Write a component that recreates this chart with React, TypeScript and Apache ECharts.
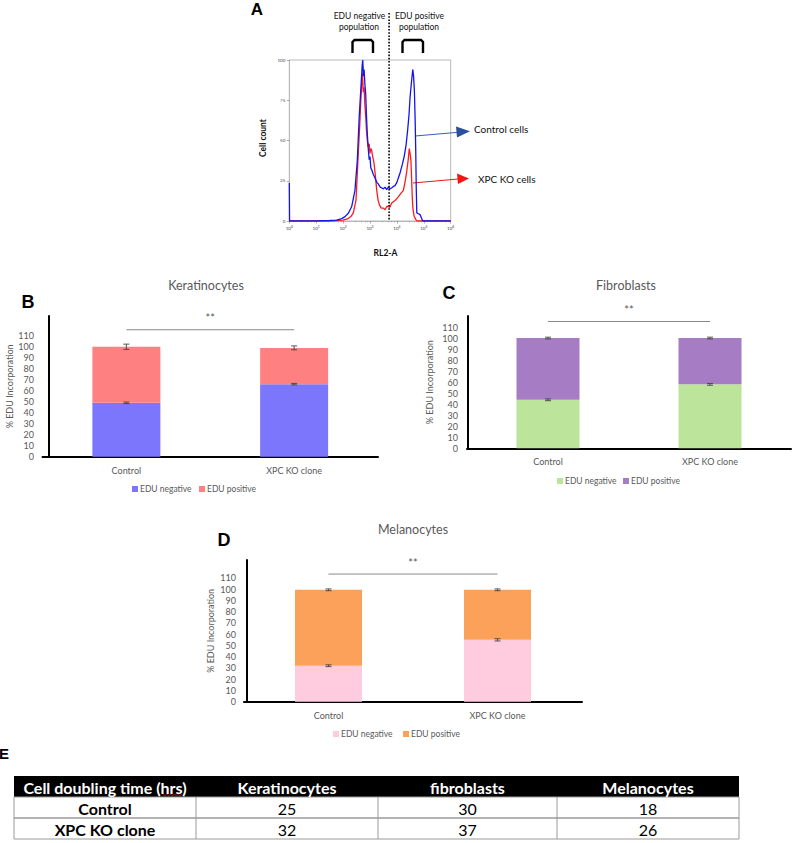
import React, { useEffect, useRef } from "react";
import * as echarts from "echarts";

// ---------- Data ----------
const categories = ["Control", "XPC KO clone"];

// Panel A: flow histogram, [log10(RL2-A), cell count]
const blueHistogram: [number, number][] = [
  [0, 23.6], [0.01, 0], [1.0, 0], [1.5, 0.3], [1.76, 0.6], [1.95, 1.5], [2.07, 2.7], [2.2, 5], [2.32, 9],
  [2.44, 19], [2.53, 38], [2.6, 65], [2.67, 85], [2.71, 97], [2.73, 100], [2.76, 90], [2.78, 94], [2.81, 85],
  [2.84, 79], [2.87, 65], [2.9, 54], [2.94, 44], [2.97, 38], [3.0, 40], [3.03, 33], [3.06, 32], [3.12, 29],
  [3.19, 26.5], [3.25, 24], [3.31, 23], [3.38, 21], [3.44, 20.5], [3.5, 20], [3.56, 21], [3.62, 19.5],
  [3.68, 21], [3.74, 20], [3.8, 20.5], [3.87, 21.5], [3.93, 22], [4.0, 24], [4.06, 27], [4.12, 30], [4.2, 35],
  [4.27, 40], [4.34, 47], [4.4, 56.5], [4.45, 66], [4.49, 77], [4.54, 86], [4.59, 94], [4.62, 90], [4.65, 81],
  [4.68, 62], [4.7, 44], [4.72, 20], [4.74, 5], [4.8, 4.5], [4.86, 4], [4.92, 1.5], [4.96, 0], [5.3, 0], [6, 0],
];
const redHistogram: [number, number][] = [
  [0, 0], [1.5, 0], [2.0, 0.5], [2.19, 1.5], [2.3, 3], [2.38, 5], [2.48, 13], [2.57, 44], [2.62, 60], [2.66, 75],
  [2.7, 88], [2.72, 92], [2.75, 80], [2.78, 83], [2.81, 72], [2.84, 65], [2.87, 56], [2.9, 50], [2.93, 46],
  [2.97, 48], [3.0, 42], [3.03, 45], [3.06, 44], [3.1, 40], [3.15, 36], [3.2, 28], [3.25, 19], [3.3, 13],
  [3.35, 10], [3.42, 8], [3.5, 8], [3.56, 7], [3.62, 9], [3.68, 9], [3.74, 8.5], [3.8, 11], [3.87, 12],
  [3.95, 13], [4.05, 15], [4.14, 17], [4.24, 19], [4.3, 24], [4.36, 30], [4.42, 38], [4.46, 45], [4.49, 42],
  [4.52, 38], [4.55, 25], [4.57, 15], [4.6, 7], [4.64, 3], [4.7, 1], [4.74, 0], [6, 0],
];
const gateLog = 3.71; // dotted gate between populations
const histYTicks = [0, 25, 50, 75, 100];

// Panel B: Keratinocytes
const keratNegative = [49, 66];
const keratPositive = [51, 33];
const keratNegErr = [0.7, 0.7];
const keratTotErr = [2.4, 1.8];
const keratSig = 115.5;

// Panel C: Fibroblasts
const fibroNegative = [44, 58];
const fibroPositive = [56, 42];
const fibroNegErr = [0.8, 0.8];
const fibroTotErr = [0.8, 0.8];
const fibroSig = 115;

// Panel D: Melanocytes
const melanoNegative = [32, 55];
const melanoPositive = [67.5, 44.5];
const melanoNegErr = [0.8, 1];
const melanoTotErr = [0.8, 0.8];
const melanoSig = 113.5;

// Panel E: table
const tableHeader = ["Cell doubling time (hrs)", "Keratinocytes", "fibroblasts", "Melanocytes"];
const tableRowLabels = ["Control", "XPC KO clone"];
const doublingControl = [25, 30, 18];
const doublingXPC = [32, 37, 26];

// ---------- Styles ----------
const FONT = "Lato, 'Open Sans', sans-serif";
const BOLD_FONT = "'Liberation Sans', Arial, sans-serif";
const GRAY = "#595959";

const colorsB = ["#7b76fb", "#ff8080"];
const colorsC = ["#bde49b", "#a67dc4"];
const colorsD = ["#ffcbdf", "#fca15a"];

function errorData(neg: number[], pos: number[], negErr: number[], totErr: number[]) {
  const out: number[][] = [];
  neg.forEach((v, i) => {
    out.push([i, v, negErr[i]]);
    out.push([i, v + pos[i], totErr[i]]);
  });
  return out;
}

function errorSeries(idx: number, data: number[][]) {
  return {
    type: "custom",
    xAxisIndex: idx,
    yAxisIndex: idx,
    z: 10,
    data,
    renderItem: (_p: any, api: any) => {
      const c = api.value(0);
      const v = api.value(1);
      const e = api.value(2);
      const x = api.coord([c, v])[0];
      const yt = api.coord([c, v + e])[1];
      const yb = api.coord([c, v - e])[1];
      const st = { stroke: "#444", lineWidth: 0.9 };
      return {
        type: "group",
        children: [
          { type: "line", shape: { x1: x, y1: yt, x2: x, y2: yb }, style: st },
          { type: "line", shape: { x1: x - 3, y1: yt, x2: x + 3, y2: yt }, style: st },
          { type: "line", shape: { x1: x - 3, y1: yb, x2: x + 3, y2: yb }, style: st },
        ],
      };
    },
  };
}

function sigSeries(idx: number, level: number) {
  return {
    type: "custom",
    xAxisIndex: idx,
    yAxisIndex: idx,
    z: 10,
    data: [[0, 1, level]],
    renderItem: (_p: any, api: any) => {
      const p0 = api.coord([api.value(0), api.value(2)]);
      const p1 = api.coord([api.value(1), api.value(2)]);
      return {
        type: "group",
        children: [
          { type: "line", shape: { x1: p0[0], y1: p0[1], x2: p1[0], y2: p1[1] }, style: { stroke: "#8a8a8a", lineWidth: 1 } },
          {
            type: "text",
            x: (p0[0] + p1[0]) / 2,
            y: p0[1] - 12,
            style: { text: "**", fill: GRAY, font: `11px ${FONT}`, textAlign: "center", textVerticalAlign: "middle" },
          },
        ],
      };
    },
  };
}

function barSeries(idx: number, stack: string, neg: number[], pos: number[], colors: string[], width: number) {
  return [
    { name: "EDU negative", type: "bar", stack, xAxisIndex: idx, yAxisIndex: idx, data: neg, barWidth: width, itemStyle: { color: colors[0] } },
    { name: "EDU positive", type: "bar", stack, xAxisIndex: idx, yAxisIndex: idx, data: pos, barWidth: width, itemStyle: { color: colors[1] } },
  ];
}

function catAxis(idx: number) {
  return {
    type: "category",
    gridIndex: idx,
    data: categories,
    axisLine: { show: true, lineStyle: { color: "#000", width: 2 } },
    axisTick: { show: false },
    axisLabel: { color: GRAY, fontSize: 9, fontFamily: FONT, margin: 9 },
  };
}

function valAxis(idx: number, max: number, nameGap: number, margin: number, offset: number) {
  return {
    type: "value",
    gridIndex: idx,
    min: 0,
    max,
    interval: 10,
    offset,
    name: "% EDU Incorporation",
    nameLocation: "middle",
    nameGap,
    nameTextStyle: { color: GRAY, fontSize: 9, fontFamily: FONT },
    axisLine: { show: true, lineStyle: { color: "#000", width: 2 } },
    axisTick: { show: false },
    splitLine: { show: false },
    axisLabel: {
      color: GRAY,
      fontSize: 9,
      fontFamily: FONT,
      margin,
      formatter: (v: number) => (v <= 110 ? String(v) : ""),
    },
  };
}

function legendGraphic(x1: number, x2: number, y: number, colors: string[]) {
  const names = ["EDU negative", "EDU positive"];
  const xs = [x1, x2];
  const out: any[] = [];
  names.forEach((n, i) => {
    out.push({ type: "rect", shape: { x: xs[i], y: y - 3, width: 6, height: 6 }, style: { fill: colors[i] } });
    out.push({
      type: "text",
      x: xs[i] + 8,
      y,
      style: { text: n, fill: GRAY, font: `8.5px ${FONT}`, textVerticalAlign: "middle" },
    });
  });
  return out;
}

function txt(text: string, x: number, y: number, font: string, fill = "#000", align = "center", rotation = 0) {
  return { type: "text", x, y, rotation, style: { text, fill, font, textAlign: align, textVerticalAlign: "middle" } };
}

function tableGraphic() {
  const left = 14;
  const colX = [14, 196, 378, 557, 739];
  const rowY = [776, 797, 818, 839];
  const els: any[] = [];
  els.push({ type: "rect", shape: { x: left, y: rowY[0], width: colX[4] - left, height: rowY[1] - rowY[0] }, style: { fill: "#000" } });
  els.push({
    type: "rect",
    shape: { x: left, y: rowY[1], width: colX[4] - left, height: rowY[3] - rowY[1] },
    style: { fill: "#fff", stroke: "#9a9a9a", lineWidth: 1 },
  });
  els.push({ type: "line", shape: { x1: left, y1: rowY[2], x2: colX[4], y2: rowY[2] }, style: { stroke: "#9a9a9a", lineWidth: 1.5 } });
  for (let i = 1; i < 4; i++) {
    els.push({ type: "line", shape: { x1: colX[i], y1: rowY[1], x2: colX[i], y2: rowY[3] }, style: { stroke: "#9a9a9a", lineWidth: 1 } });
  }
  tableHeader.forEach((h, i) => {
    els.push(txt(h, (colX[i] + colX[i + 1]) / 2, (rowY[0] + rowY[1]) / 2 + 0.5, `bold 16px ${FONT}`, "#fff"));
  });
  // spell-check squiggle under "hrs"
  const sq: number[][] = [];
  for (let k = 0; k <= 10; k++) sq.push([163 + k * 1.9, 794.5 + (k % 2 ? 1 : 0)]);
  els.push({ type: "polyline", shape: { points: sq }, style: { stroke: "#e02020", lineWidth: 0.8, fill: null } });
  const rows = [doublingControl, doublingXPC];
  rows.forEach((r, ri) => {
    const cy = (rowY[ri + 1] + rowY[ri + 2]) / 2 + 0.5;
    els.push(txt(tableRowLabels[ri], (colX[0] + colX[1]) / 2, cy, `bold 16px ${FONT}`, "#000"));
    r.forEach((v, ci) => {
      els.push(txt(String(v), (colX[ci + 1] + colX[ci + 2]) / 2, cy, `16px ${FONT}`, "#000"));
    });
  });
  return els;
}

function buildOption() {
  const toPts = (arr: [number, number][]) => arr.map(([e, c]) => [Math.pow(10, e), c]);
  return {
    animation: false,
    backgroundColor: "#fff",
    grid: [
      { left: 289.3, top: 60, width: 161.4, height: 161, show: true, borderColor: "#b8b8b8", borderWidth: 1, backgroundColor: "transparent" },
      { left: 42.5, top: 316, width: 335.5, height: 140.7 },
      { left: 467, top: 316, width: 324, height: 132.3 },
      { left: 244, top: 560, width: 338, height: 141.7 },
    ],
    xAxis: [
      {
        type: "log",
        logBase: 10,
        gridIndex: 0,
        min: 1,
        max: 1e6,
        axisLine: { show: true, lineStyle: { color: "#b8b8b8", width: 1 } },
        axisTick: { show: true, length: 2.5, lineStyle: { color: "#777", width: 0.6 } },
        minorTick: { show: true, splitNumber: 5, length: 1.5, lineStyle: { color: "#999", width: 0.5 } },
        splitLine: { show: false },
        axisLabel: {
          margin: 4,
          formatter: (v: number) => `{b|10}{s|${Math.round(Math.log10(v))}}`,
          rich: {
            b: { fontSize: 4.5, color: "#444", fontFamily: FONT },
            s: { fontSize: 3.5, color: "#444", fontFamily: FONT, padding: [0, 0, 3, 0] },
          },
        },
      },
      catAxis(1),
      catAxis(2),
      catAxis(3),
    ],
    yAxis: [
      {
        type: "value",
        gridIndex: 0,
        min: 0,
        max: 100,
        interval: 25,
        axisLine: { show: true, lineStyle: { color: "#b8b8b8", width: 1 } },
        axisTick: { show: true, length: 2.5, lineStyle: { color: "#777", width: 0.6 } },
        splitLine: { show: false },
        axisLabel: {
          fontSize: 4.5,
          color: "#444",
          fontFamily: FONT,
          margin: 4,
          customValues: histYTicks,
        },
      },
      valAxis(1, 128, 34, 15, -6.5),
      valAxis(2, 120, 34, 10, -1),
      valAxis(3, 126, 32, 11, -3),
    ],
    series: [
      {
        name: "XPC KO cells",
        type: "line",
        xAxisIndex: 0,
        yAxisIndex: 0,
        data: toPts(redHistogram),
        showSymbol: false,
        lineStyle: { color: "#ff1a1a", width: 1.3 },
        z: 3,
      },
      {
        name: "Control cells",
        type: "line",
        xAxisIndex: 0,
        yAxisIndex: 0,
        data: toPts(blueHistogram),
        showSymbol: false,
        lineStyle: { color: "#1414f0", width: 1.3 },
        z: 4,
      },
      {
        type: "custom",
        xAxisIndex: 0,
        yAxisIndex: 0,
        z: 5,
        data: [[Math.pow(10, gateLog), 0]],
        renderItem: (_p: any, api: any) => {
          const top = api.coord([api.value(0), 100]);
          const bot = api.coord([api.value(0), 0]);
          return {
            type: "line",
            shape: { x1: top[0], y1: top[1] - 47, x2: bot[0], y2: bot[1] },
            style: { stroke: "#000", lineWidth: 1.6, lineDash: [1.6, 1.6] },
          };
        },
      },
      ...barSeries(1, "B", keratNegative, keratPositive, colorsB, 68),
      errorSeries(1, errorData(keratNegative, keratPositive, keratNegErr, keratTotErr)),
      sigSeries(1, keratSig),
      ...barSeries(2, "C", fibroNegative, fibroPositive, colorsC, 63),
      errorSeries(2, errorData(fibroNegative, fibroPositive, fibroNegErr, fibroTotErr)),
      sigSeries(2, fibroSig),
      ...barSeries(3, "D", melanoNegative, melanoPositive, colorsD, 67),
      errorSeries(3, errorData(melanoNegative, melanoPositive, melanoNegErr, melanoTotErr)),
      sigSeries(3, melanoSig),
    ],
    graphic: [
      // panel letters
      txt("A", 257, 9, `bold 17px ${BOLD_FONT}`),
      txt("B", 28, 302, `bold 18px ${BOLD_FONT}`),
      txt("C", 449, 293, `bold 18px ${BOLD_FONT}`),
      txt("D", 224, 540, `bold 18px ${BOLD_FONT}`),
      txt("E", 4, 753, `bold 15px ${BOLD_FONT}`),
      // panel A annotations
      txt("EDU negative", 359.5, 15.5, `8.5px ${FONT}`, "#111"),
      txt("population", 359, 26.7, `8.5px ${FONT}`, "#111"),
      txt("EDU positive", 419.5, 15.5, `8.5px ${FONT}`, "#111"),
      txt("population", 419, 26.7, `8.5px ${FONT}`, "#111"),
      {
        type: "polyline",
        shape: { points: [[352.5, 53], [352.5, 42], [354.5, 40], [371, 40], [373, 42], [373, 53]] },
        style: { stroke: "#000", lineWidth: 2.4, fill: null },
      },
      {
        type: "polyline",
        shape: { points: [[402.5, 53], [402.5, 42], [404.5, 40], [421, 40], [423, 42], [423, 53]] },
        style: { stroke: "#000", lineWidth: 2.4, fill: null },
      },
      txt("Cell count", 263, 138, `bold 8.5px ${FONT}`, "#111", "center", Math.PI / 2),
      txt("RL2-A", 385.5, 253, `bold 8.5px ${FONT}`, "#111"),
      { type: "line", shape: { x1: 415, y1: 136, x2: 458, y2: 132.3 }, style: { stroke: "#3a5fb0", lineWidth: 1 } },
      { type: "polygon", shape: { points: [[470, 131.3], [456, 126.5], [457, 137.5]] }, style: { fill: "#2d4f9e" } },
      txt("Control cells", 474, 128.5, `10px ${FONT}`, "#111", "left"),
      { type: "line", shape: { x1: 413, y1: 183, x2: 458, y2: 179 }, style: { stroke: "#f01616", lineWidth: 1 } },
      { type: "polygon", shape: { points: [[469, 178.5], [457, 173.5], [458, 184]] }, style: { fill: "#f01616" } },
      txt("XPC KO cells", 478, 178.5, `10px ${FONT}`, "#111", "left"),
      // titles
      txt("Keratinocytes", 206, 285, `12.5px ${FONT}`, GRAY),
      txt("Fibroblasts", 626, 285, `12.5px ${FONT}`, GRAY),
      txt("Melanocytes", 413, 529, `12.5px ${FONT}`, GRAY),
      // legends
      ...legendGraphic(132, 199, 489, colorsB),
      ...legendGraphic(557, 623, 481, colorsC),
      ...legendGraphic(333, 403, 734, colorsD),
      // table
      ...tableGraphic(),
    ],
  };
}

export default function App() {
  const ref = useRef<HTMLDivElement>(null);
  useEffect(() => {
    if (!ref.current) return;
    const chart = echarts.init(ref.current, undefined, { renderer: "svg" });
    chart.setOption(buildOption() as any);
    return () => chart.dispose();
  }, []);
  return (
    <div
      ref={ref}
      style={{ position: "fixed", left: 0, top: 0, width: 794, height: 843, background: "#fff" }}
    />
  );
}
